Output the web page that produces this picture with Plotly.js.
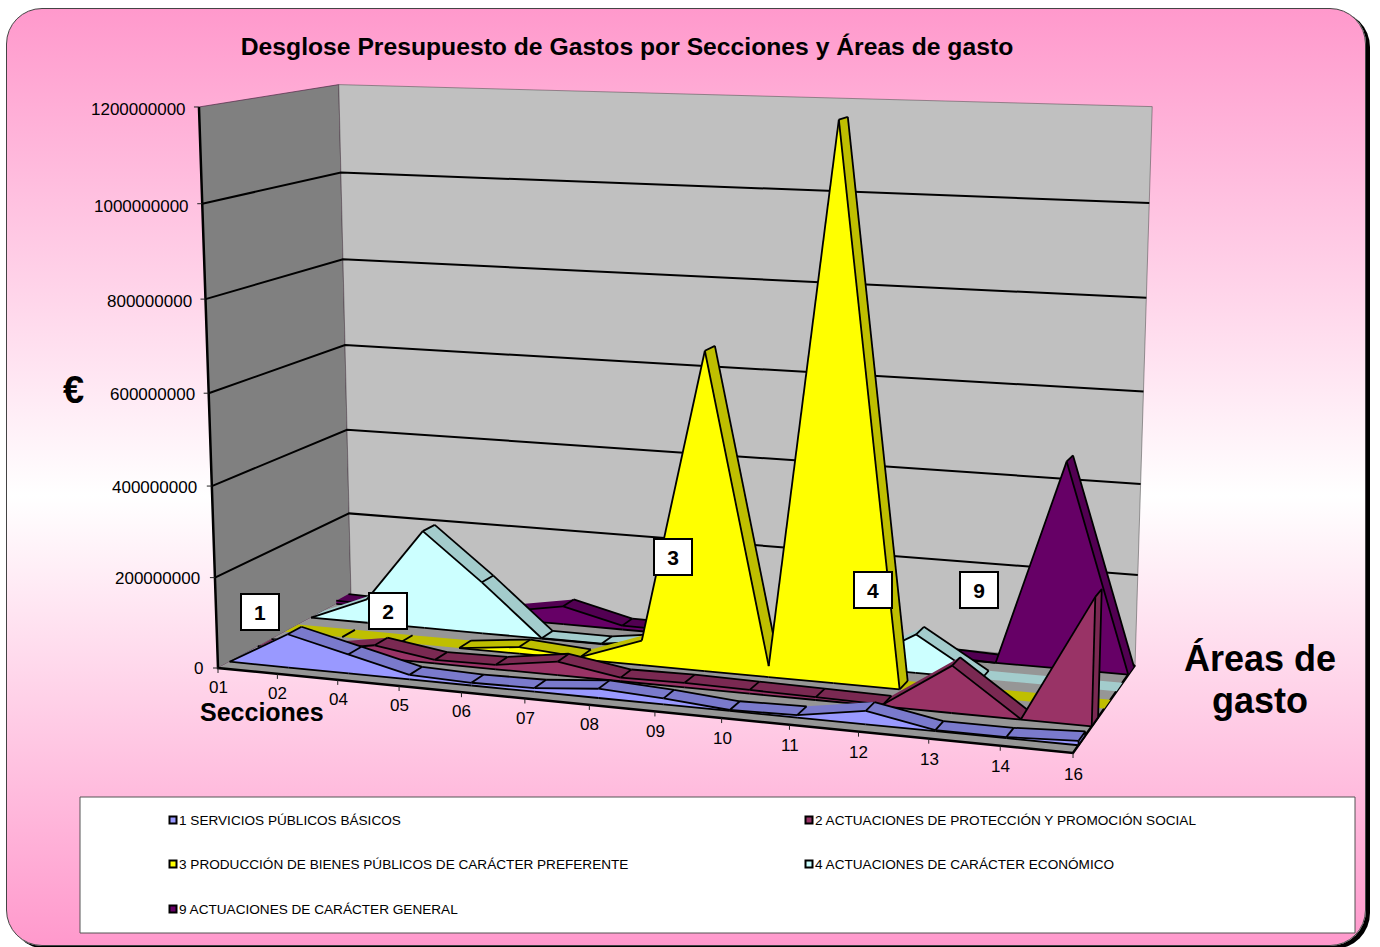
<!DOCTYPE html>
<html><head><meta charset="utf-8">
<script src="https://cdn.plot.ly/plotly-3.0.1.min.js"></script>
<style>
html,body{margin:0;padding:0;background:#fff;width:1380px;height:947px;overflow:hidden}
#panel{position:absolute;left:6px;top:8px;width:1358px;height:936px;border-radius:36px;border:1px solid #444;
background:linear-gradient(to bottom,#FF99CC 0%,#FFFFFF 52%,#FF99CC 100%);box-shadow:4px 3px 0 #000}
#chart{position:absolute;left:0;top:0;width:1380px;height:947px}
</style></head><body>
<div id="panel"></div><div id="chart"></div>
<script>
// ---------- data ----------
const secciones = ['01','02','04','05','06','07','08','09','10','11','12','13','14','16'];
const s1 = [0,74e6,42e6,10e6,6e6,8e6,20e6,13e6,2e6,5e6,28e6,2e6,2e6,9e6];
const s2 = [0,5e6,28e6,8e6,10e6,30e6,8e6,10e6,8e6,6e6,4e6,100e6,1e6,268e6];
const s3 = [0,0,0,0,15e6,5e6,55e6,695e6,24e6,1185e6,0,0,0,0];
const s4 = [0,55e6,225e6,118e6,1e6,1e6,20e6,2e6,2e6,2e6,85e6,0,0,0];
const s9 = [8e6,5e6,10e6,18e6,42e6,9e6,8e6,3e6,3e6,3e6,5e6,0,455e6,0];
const seriesNames = ['1 SERVICIOS PÚBLICOS BÁSICOS','2 ACTUACIONES DE PROTECCIÓN Y PROMOCIÓN SOCIAL',
 '3 PRODUCCIÓN DE BIENES PÚBLICOS DE CARÁCTER PREFERENTE','4 ACTUACIONES DE CARÁCTER ECONÓMICO','9 ACTUACIONES DE CARÁCTER GENERAL'];
const valueTicks = [0,200000000,400000000,600000000,800000000,1000000000,1200000000];
const areaLabels = ['1','2','3','4','9'];

// ---------- styles ----------
const frontColors = ['#9999FF','#993366','#FFFF00','#CCFFFF','#660066'];
const ribbonColors = ['#7A7ACC','#7A2952','#BFBF00','#A3CCCC','#520052'];
const zFront = [0.08,0.28,0.48,0.68,0.88], zDepth = 0.10;
const VMAX = 1.2e9;

// ---------- perspective of the 3-D box onto the plot's axes ----------
const cam = {a:-0.1043,b:0.0988,c:-0.04,ox:218,oy:668,Ax:743.1,Ay:6.46,Bx:167.7,By:-13.1,Cx:-27,Cy:-565.3,Dx:-2,Dy:5.7};
function proj(X,v,Z){
  const Y=v/VMAX, w=1+cam.a*X+cam.b*Z+cam.c*Y;
  return [(cam.ox+cam.Ax*X+cam.Bx*Z+cam.Cx*Y+cam.Dx*X*Y)/w,(cam.oy+cam.Ay*X+cam.By*Z+cam.Cy*Y+cam.Dy*X*Y)/w];
}
function poly(pts,fill,lineColor,lineW,name){
  const x=[],y=[];
  pts.forEach(p=>{ if(p===null){x.push(null);y.push(null);} else {const q=proj(p[0],p[1],p[2]);x.push(q[0]);y.push(q[1]);} });
  return {type:'scatter',mode:'lines',x,y,fill:fill?'toself':'none',fillcolor:fill||undefined,
    line:{color:lineColor,width:lineW},hoverinfo:'skip',showlegend:false,name:name||''};
}
// same winding for every face, so overlapping faces in one trace do not cancel
function wound(pts){
  let A=0; const q=pts.map(p=>proj(p[0],p[1],p[2]));
  q.forEach((p,i)=>{const r=q[(i+1)%q.length];A+=p[0]*r[1]-r[0]*p[1];});
  const o=A<0?pts.slice().reverse():pts.slice();
  return o.concat([o[0],null]);
}
const n=secciones.length, Xi=i=>i/(n-1);
const traces=[];
// walls and floor
traces.push(poly([[0,0,0],[0,VMAX,0],[0,VMAX,1],[0,0,1],[0,0,0]],'#808080','rgba(80,40,70,0.7)',1));
traces.push(poly([[0,0,1],[0,VMAX,1],[1,VMAX,1],[1,0,1],[0,0,1]],'#C0C0C0','rgba(70,70,70,0.5)',1));
traces.push(poly([[0,0,0],[1,0,0],[1,0,1],[0,0,1],[0,0,0]],'#969696','rgba(0,0,0,0)',0));
// gridlines
const grid=[]; valueTicks.slice(1,-1).forEach(v=>{grid.push([0,v,0],[0,v,1],[1,v,1],null);});
traces.push(poly(grid,null,'#000',2));
traces.push(poly([[0,VMAX,0],[0,0,0],[1,0,0],[1,0,1]],null,'#000',2.5));
// axis ticks
const tickTrace={type:'scatter',mode:'lines',x:[],y:[],line:{color:'#222',width:1},hoverinfo:'skip',showlegend:false};
valueTicks.forEach(v=>{const p=proj(0,v,0);tickTrace.x.push(p[0]-5,p[0],null);tickTrace.y.push(p[1],p[1],null);});
secciones.forEach((s,i)=>{const p=proj(Xi(i),0,0);tickTrace.x.push(p[0],p[0],null);tickTrace.y.push(p[1],p[1]+5,null);});
traces.push(tickTrace);
// series, back to front
const allSeries=[s1,s2,s3,s4,s9];
for(let k=4;k>=0;k--){
  const vals=allSeries[k], zf=zFront[k], zb=zf+zDepth;
  const ribFill=[], ribLine=[], frontLine=[];
  for(let i=0;i<n-1;i++){
    ribFill.push(...wound([[Xi(i),vals[i],zf],[Xi(i+1),vals[i+1],zf],[Xi(i+1),vals[i+1],zb],[Xi(i),vals[i],zb]]));
    if(i>0) ribLine.push([Xi(i),vals[i],zf],[Xi(i),vals[i],zb],null);
    if(vals[i]!==0||vals[i+1]!==0){
      // the back edge of a steep rise lies behind the front face: leave it out
      if(vals[i+1]-vals[i]<=20e6) ribLine.push([Xi(i),vals[i],zb],[Xi(i+1),vals[i+1],zb],null);
      frontLine.push([Xi(i),vals[i],zf],[Xi(i+1),vals[i+1],zf],null,[Xi(i),0,zf],[Xi(i+1),0,zf],null);
    }
  }
  const last=vals[n-1];
  if(last!==0){
    ribFill.push(...wound([[1,last,zf],[1,last,zb],[1,0,zb],[1,0,zf]]));
    ribLine.push([1,last,zf],[1,last,zb],[1,0,zb],[1,0,zf],null);
    frontLine.push([1,last,zf],[1,0,zf],null);
  }
  traces.push(poly(ribFill,ribbonColors[k],'rgba(0,0,0,0)',0));
  traces.push(poly(ribLine,null,'#000',1.8));
  const front=[[0,0,zf]];
  vals.forEach((v,i)=>front.push([Xi(i),v,zf]));
  front.push([1,0,zf],[0,0,zf]);
  traces.push(poly(front,frontColors[k],'rgba(0,0,0,0)',0,seriesNames[k]));
  traces.push(poly(frontLine,null,'#000',1.8));
}
// legend swatches
const legendX=[173,809,173,809,173], legendY=[820,820,864,864,909];
seriesNames.forEach((nm,k)=>traces.push({type:'scatter',mode:'markers',x:[legendX[k]],y:[legendY[k]],
  marker:{symbol:'square',size:7,color:frontColors[k],line:{color:'#000',width:2}},hoverinfo:'skip',showlegend:false}));

// ---------- text ----------
const F='"Liberation Sans",Arial,sans-serif';
const ann=[];
const txt=(x,y,text,size,bold,xanchor)=>ann.push({xref:'x',yref:'y',x,y,text:bold?'<b>'+text+'</b>':text,showarrow:false,
  font:{family:F,size,color:'#000'},xanchor:xanchor||'center',yanchor:'middle'});
valueTicks.forEach(v=>{const p=proj(0,v,0);txt(p[0]-13+2*v/VMAX,p[1]+3*v/VMAX,String(v),17,false,'right');});
secciones.forEach((s,i)=>{const p=proj(Xi(i),0,0);txt(p[0]+0.5,p[1]+19+2*Xi(i),s,17,false);});
txt(262,712,'Secciones',25,true);
txt(73,390,'€',38,true);
txt(1260,658,'Áreas de',36,true);
txt(1260,700,'gasto',36,true);
const boxX=[260,388,673,873,979], boxY=[612,611,557,590,590];
areaLabels.forEach((t,k)=>ann.push({xref:'x',yref:'y',x:boxX[k],y:boxY[k],text:'<b>'+t+'</b>',showarrow:false,
  width:36,height:34,bgcolor:'#fff',bordercolor:'#000',borderwidth:2,borderpad:0,align:'center',valign:'middle',
  font:{family:F,size:21,color:'#000'}}));
seriesNames.forEach((nm,k)=>txt(legendX[k]+3.5,legendY[k],nm,13.6,false,'left'));

const layout={width:1380,height:947,margin:{l:0,r:0,t:0,b:0},paper_bgcolor:'rgba(0,0,0,0)',plot_bgcolor:'rgba(0,0,0,0)',
  title:{text:'<b>Desglose Presupuesto de Gastos por Secciones y Áreas de gasto</b>',x:627/1380,xanchor:'center',y:1-46/947,yanchor:'middle',
    font:{family:F,size:24.7,color:'#000'}},
  xaxis:{range:[0,1380],visible:false,fixedrange:true},yaxis:{range:[947,0],visible:false,fixedrange:true},
  showlegend:false,annotations:ann,
  shapes:[{type:'rect',layer:'below',xref:'x',yref:'y',x0:80,x1:1355,y0:797,y1:933,fillcolor:'#fff',line:{color:'#555',width:1}}]};
Plotly.newPlot('chart',traces,layout,{displayModeBar:false,staticPlot:true});
</script></body></html>
